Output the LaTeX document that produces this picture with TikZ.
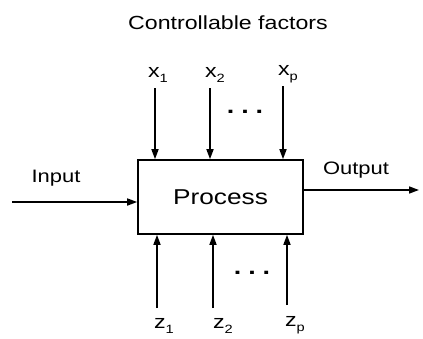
\documentclass[tikz,border=0pt]{standalone}
\usepackage{fontspec}
\setmainfont[FakeStretch=1.22]{Liberation Sans}
\usetikzlibrary{arrows.meta}
\begin{document}
\begin{tikzpicture}[x=1pt,y=-1pt,
  arr/.style={line width=1.6pt,-{Triangle[length=10pt,width=7pt]}},
  lbl/.style={inner sep=0pt,font=\fontsize{18}{18}\selectfont},
  var/.style={inner sep=0pt,font=\fontsize{19}{19}\selectfont},
  sub/.style={},
  dotsnode/.style={inner sep=0pt,font=\fontsize{22}{22}\selectfont\bfseries}]
\useasboundingbox (0,0) rectangle (423,338);
\node[inner sep=0pt,font=\fontsize{19}{19}\selectfont] (title) at (228,23) {Controllable factors};
\node[draw,line width=1.6pt,minimum width=165pt,minimum height=74pt,inner sep=0pt,font=\fontsize{21.5}{21.5}\selectfont] (box) at (220.5,197) {Process};
% controllable
\node[var] (x1) at (158,75) {x\raisebox{-5pt}{\fontsize{12}{12}\selectfont 1}};
\node[var] (x2) at (215,75) {x\raisebox{-5pt}{\fontsize{12}{12}\selectfont 2}};
\node[var] (xp) at (288,74) {x\raisebox{-5pt}{\fontsize{12}{12}\selectfont p}};
\coordinate (a1) at (155,88);
\coordinate (a2) at (210,88);
\coordinate (ap) at (283,86);
\draw[arr] (a1) -- (a1 |- box.north);
\draw[arr] (a2) -- (a2 |- box.north);
\draw[arr] (ap) -- (ap |- box.north);
\node[dotsnode] (dtop) at (245,112) {.\hspace{7pt}.\hspace{7pt}.};
% uncontrollable
\node[var] (z1) at (164,326) {z\raisebox{-5pt}{\fontsize{12}{12}\selectfont 1}};
\node[var] (z2) at (223,326) {z\raisebox{-5pt}{\fontsize{12}{12}\selectfont 2}};
\node[var] (zp) at (295,325) {z\raisebox{-5pt}{\fontsize{12}{12}\selectfont p}};
\coordinate (b1) at (157,308);
\coordinate (b2) at (213,308);
\coordinate (bp) at (287,305);
\draw[arr] (b1) -- (b1 |- box.south);
\draw[arr] (b2) -- (b2 |- box.south);
\draw[arr] (bp) -- (bp |- box.south);
\node[dotsnode] (dbot) at (252,273) {.\hspace{7pt}.\hspace{7pt}.};
% input / output
\node[lbl] (in) at (56,178) {Input};
\node[lbl] (out) at (356,170) {Output};
\coordinate (istart) at (12,202);
\coordinate (oend) at (419,190);
\draw[arr] (istart) -- (istart -| box.west);
\draw[arr] (oend -| box.east) -- (oend);
\end{tikzpicture}
\end{document}
